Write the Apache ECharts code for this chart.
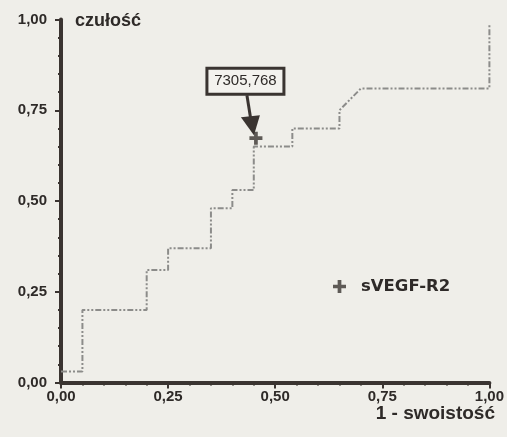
<!DOCTYPE html>
<html>
<head>
<meta charset="utf-8">
<script src="https://cdn.jsdelivr.net/npm/echarts@6/dist/echarts.min.js"></script>
<style>
  html, body { margin: 0; padding: 0; background: #efeee9; }
  #main { width: 507px; height: 437px; }
</style>
</head>
<body>
<div id="main"></div>
<script>
// ROC curve points (1 - specificity, sensitivity)
var fpr = [0, 0.05, 0.05, 0.20, 0.20, 0.25, 0.25, 0.35, 0.35, 0.40, 0.40, 0.45, 0.45, 0.54, 0.54, 0.65, 0.65, 0.70, 1.00, 1.00]
var tpr = [0.03, 0.03, 0.20, 0.20, 0.31, 0.31, 0.37, 0.37, 0.48, 0.48, 0.53, 0.53, 0.65, 0.65, 0.70, 0.70, 0.75, 0.81, 0.81, 0.99]
// cut-off point
var cutoff = [0.455, 0.673]
var cutoffLabel = '7305,768'
var tickLabels = ['0,00', '0,25', '0,50', '0,75', '1,00']
var seriesName = 'sVEGF-R2'

var dark = '#3a3431'
var plus = 'path://M5,0H9V5H14V9H9V14H5V9H0V5H5Z'

var curve = fpr.map(function (x, i) { return [x, tpr[i]] })

function tickFmt(v) {
  return tickLabels[Math.round(v / 0.25)]
}

var axisCommon = {
  type: 'value',
  min: 0,
  max: 1,
  interval: 0.25,
  axisLine: { show: true, lineStyle: { color: dark, width: 4 } },
  axisTick: { show: true, length: 6, lineStyle: { color: dark, width: 2 } },
  minorTick: { show: true, splitNumber: 5, length: 3, lineStyle: { color: dark, width: 2 } },
  splitLine: { show: false },
  axisLabel: {
    formatter: tickFmt,
    color: '#2e2a28',
    fontFamily: 'Liberation Sans',
    fontWeight: 'bold',
    fontSize: 15
  }
}

var myChart = echarts.init(document.getElementById('main'))
var option = {
  backgroundColor: '#efeee9',
  animation: false,
  title: [
    {
      text: 'czułość',
      left: 70,
      top: 7,
      textStyle: { fontFamily: 'Liberation Sans', fontWeight: 'bold', fontSize: 18, color: '#2e2a28' }
    },
    {
      text: '1 - swoistość',
      right: 7,
      top: 399,
      textStyle: { fontFamily: 'Liberation Sans', fontWeight: 'bold', fontSize: 19, color: '#2e2a28' }
    }
  ],
  legend: {
    left: 328,
    top: 273,
    itemWidth: 13,
    itemHeight: 13,
    data: [{ name: seriesName, icon: plus }],
    textStyle: {
      fontFamily: 'DejaVu Sans',
      fontWeight: 'bold',
      fontSize: 16.5,
      color: '#2e2a28',
      padding: [0, 0, 0, 10]
    }
  },
  grid: { left: 61, right: 16, top: 19.5, bottom: 54.5 },
  xAxis: Object.assign({}, axisCommon, {
    axisLabel: Object.assign({}, axisCommon.axisLabel, { margin: 7 })
  }),
  yAxis: Object.assign({}, axisCommon, {
    axisLabel: Object.assign({}, axisCommon.axisLabel, { margin: 14 })
  }),
  series: [
    {
      name: 'roc',
      type: 'line',
      data: curve,
      showSymbol: false,
      silent: true,
      lineStyle: { color: '#8c8c8a', width: 2, type: [6, 2, 2, 2, 2, 2] },
      z: 2
    },
    {
      name: seriesName,
      type: 'scatter',
      data: [cutoff],
      symbol: plus,
      symbolSize: 13,
      itemStyle: { color: dark },
      z: 3
    }
  ]
}
myChart.setOption(option)

// annotation box with arrow pointing to the cut-off point
var p = myChart.convertToPixel({ gridIndex: 0 }, cutoff)
var bx = p[0] - 49, by = p[1] - 70
myChart.setOption({
  graphic: [
    {
      type: 'rect',
      shape: { x: bx, y: by, width: 77, height: 26 },
      style: { fill: '#f3f2ee', stroke: dark, lineWidth: 3 },
      z: 10
    },
    {
      type: 'text',
      x: bx + 38.5,
      y: by + 13,
      style: {
        text: cutoffLabel,
        fill: '#2e2a28',
        font: '15px "Liberation Sans"',
        align: 'center',
        verticalAlign: 'middle'
      },
      z: 11
    },
    {
      type: 'line',
      shape: { x1: p[0] - 9, y1: by + 27, x2: p[0] - 5, y2: p[1] - 18 },
      style: { stroke: dark, lineWidth: 3 },
      z: 10
    },
    {
      type: 'polygon',
      shape: { points: [[p[0] - 15, p[1] - 21], [p[0] + 4, p[1] - 23], [p[0] - 2, p[1] - 3]] },
      style: { fill: dark },
      z: 10
    }
  ]
})
</script>
</body>
</html>
